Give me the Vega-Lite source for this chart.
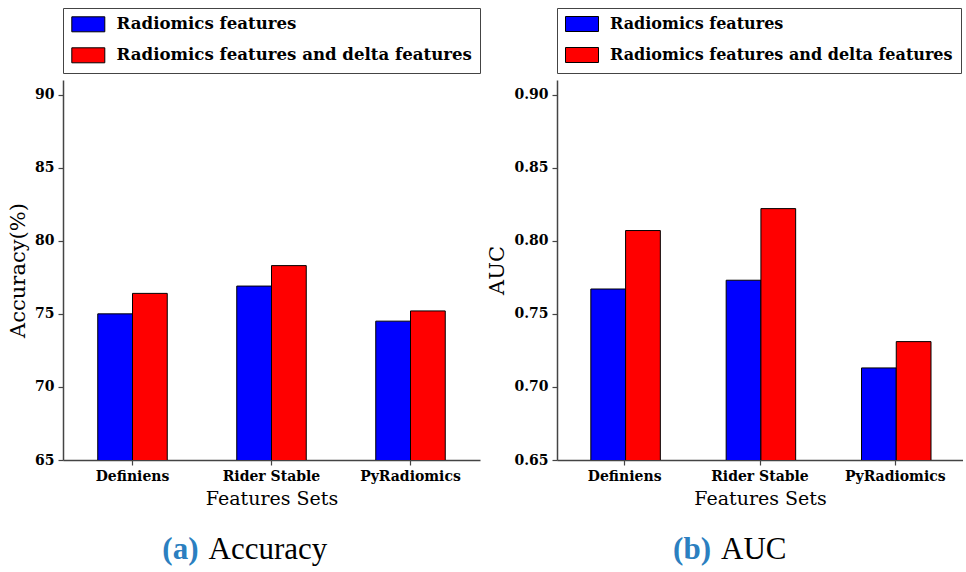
{
  "$schema": "https://vega.github.io/schema/vega-lite/v6.json",
  "background": "white",
  "padding": {"left": 7, "top": 7, "right": 0, "bottom": 0},
  "datasets": {
    "acc": [
      {"set": "Definiens", "type": "Radiomics features", "value": 75.0},
      {"set": "Definiens", "type": "Radiomics features and delta features", "value": 76.4},
      {"set": "Rider Stable", "type": "Radiomics features", "value": 76.9},
      {"set": "Rider Stable", "type": "Radiomics features and delta features", "value": 78.3},
      {"set": "PyRadiomics", "type": "Radiomics features", "value": 74.5},
      {"set": "PyRadiomics", "type": "Radiomics features and delta features", "value": 75.2}
    ],
    "auc": [
      {"set": "Definiens", "type": "Radiomics features", "value": 0.767},
      {"set": "Definiens", "type": "Radiomics features and delta features", "value": 0.807},
      {"set": "Rider Stable", "type": "Radiomics features", "value": 0.773},
      {"set": "Rider Stable", "type": "Radiomics features and delta features", "value": 0.822},
      {"set": "PyRadiomics", "type": "Radiomics features", "value": 0.713},
      {"set": "PyRadiomics", "type": "Radiomics features and delta features", "value": 0.731}
    ],
    "capA": [{"tag": "(a)", "name": "Accuracy"}],
    "capB": [{"tag": "(b)", "name": "AUC"}]
  },
  "spacing": 5,
  "hconcat": [
    {
      "spacing": 22,
      "vconcat": [
        {
          "width": 417,
          "height": 380,
          "data": {"name": "acc"},
          "mark": {"type": "bar", "stroke": "black", "strokeWidth": 1, "clip": true},
          "encoding": {
            "x": {"field": "set", "type": "nominal", "sort": ["Definiens", "Rider Stable", "PyRadiomics"], "scale": {"paddingInner": 0.5, "paddingOuter": 0.25}, "axis": {"title": "Features Sets", "labelAngle": 0}},
            "xOffset": {"field": "type", "type": "nominal", "sort": ["Radiomics features", "Radiomics features and delta features"]},
            "y": {"field": "value", "type": "quantitative", "scale": {"domain": [65, 91], "nice": false, "zero": false}, "axis": {"title": "Accuracy(%)", "titleFontSize": 21, "values": [65, 70, 75, 80, 85, 90]}},
            "color": {"field": "type", "type": "nominal", "scale": {"domain": ["Radiomics features", "Radiomics features and delta features"], "range": ["#0000ff", "#ff0000"]}, "legend": {"orient": "top", "direction": "vertical", "title": null, "offset": 7, "labelFontSize": 16.6}}
          }
        },
        {
          "width": 417,
          "height": 40,
          "data": {"name": "capA"},
          "layer": [
            {"mark": {"type": "text", "align": "right", "baseline": "middle", "dx": -73, "font": "Liberation Serif", "fontWeight": "bold", "fontSize": 31, "color": "#2b7fc0"}, "encoding": {"text": {"field": "tag"}}},
            {"mark": {"type": "text", "align": "left", "baseline": "middle", "dx": -63, "font": "Liberation Serif", "fontSize": 31, "color": "black"}, "encoding": {"text": {"field": "name"}}}
          ]
        }
      ]
    },
    {
      "spacing": 22,
      "vconcat": [
        {
          "width": 406,
          "height": 380,
          "data": {"name": "auc"},
          "mark": {"type": "bar", "stroke": "black", "strokeWidth": 1, "clip": true},
          "encoding": {
            "x": {"field": "set", "type": "nominal", "sort": ["Definiens", "Rider Stable", "PyRadiomics"], "scale": {"paddingInner": 0.5, "paddingOuter": 0.25}, "axis": {"title": "Features Sets", "labelAngle": 0}},
            "xOffset": {"field": "type", "type": "nominal", "sort": ["Radiomics features", "Radiomics features and delta features"]},
            "y": {"field": "value", "type": "quantitative", "scale": {"domain": [0.65, 0.91], "nice": false, "zero": false}, "axis": {"title": "AUC", "titleFontSize": 21, "values": [0.65, 0.7, 0.75, 0.8, 0.85, 0.9], "format": ".2f"}},
            "color": {"field": "type", "type": "nominal", "scale": {"domain": ["Radiomics features", "Radiomics features and delta features"], "range": ["#0000ff", "#ff0000"]}, "legend": {"orient": "top", "direction": "vertical", "title": null, "offset": 7, "labelFontSize": 16}}
          }
        },
        {
          "width": 406,
          "height": 40,
          "data": {"name": "capB"},
          "layer": [
            {"mark": {"type": "text", "align": "right", "baseline": "middle", "dx": -49, "font": "Liberation Serif", "fontWeight": "bold", "fontSize": 31, "color": "#2b7fc0"}, "encoding": {"text": {"field": "tag"}}},
            {"mark": {"type": "text", "align": "left", "baseline": "middle", "dx": -39, "font": "Liberation Serif", "fontSize": 31, "color": "black"}, "encoding": {"text": {"field": "name"}}}
          ]
        }
      ]
    }
  ],
  "resolve": {"scale": {"color": "independent"}, "legend": {"color": "independent"}},
  "config": {
    "view": {"stroke": null},
    "axis": {
      "grid": false,
      "domainColor": "#444444",
      "domainWidth": 1.5,
      "tickColor": "#444444",
      "tickWidth": 1.2,
      "tickSize": 5,
      "labelFont": "DejaVu Serif",
      "labelFontWeight": "bold",
      "labelFontSize": 14,
      "labelColor": "black",
      "labelPadding": 4,
      "titleFont": "DejaVu Serif",
      "titleFontWeight": "normal",
      "titleFontSize": 19,
      "titleColor": "black",
      "titlePadding": 6
    },
    "legend": {
      "strokeColor": "#444444",
      "padding": 8,
      "rowPadding": 11,
      "labelFont": "DejaVu Serif",
      "labelFontWeight": "bold",
      "labelColor": "black",
      "labelOffset": 29,
      "labelLimit": 600,
      "symbolType": "M-1,-1H3.4V1H-1Z",
      "symbolSize": 225,
      "symbolStrokeColor": "black",
      "symbolStrokeWidth": 1,
      "symbolOpacity": 1
    }
  }
}
